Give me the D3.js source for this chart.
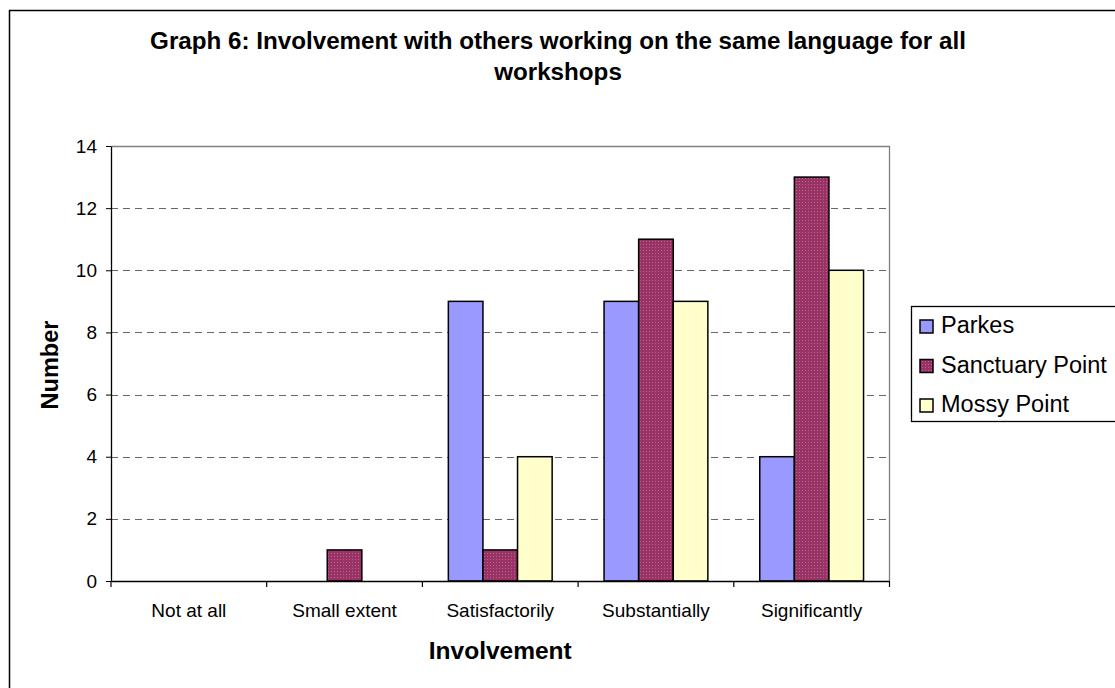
<!DOCTYPE html>
<html>
<head>
<meta charset="utf-8">
<script src="https://cdn.jsdelivr.net/npm/d3@7/dist/d3.min.js"></script>
<style>
  html, body { margin: 0; padding: 0; background: #fff; }
  svg { display: block; font-family: "Liberation Sans", Arial, sans-serif; }
</style>
</head>
<body>
<svg id="chart" width="1115" height="688"></svg>
<script>
const categories = ["Not at all", "Small extent", "Satisfactorily", "Substantially", "Significantly"];
const seriesNames = ["Parkes", "Sanctuary Point", "Mossy Point"];
const parkes = [0, 0, 9, 9, 4];
const sanctuaryPoint = [0, 1, 1, 11, 13];
const mossyPoint = [0, 0, 4, 9, 10];
const yTicks = [0, 2, 4, 6, 8, 10, 12, 14];
const titleLines = ["Graph 6: Involvement with others working on the same language for all", "workshops"];
const xTitle = "Involvement";
const yTitle = "Number";

const seriesValues = [parkes, sanctuaryPoint, mossyPoint];
const fills = ["#9999FF", "url(#dots)", "#FFFFCC"];

const svg = d3.select("#chart");
const defs = svg.append("defs");
const pat = defs.append("pattern").attr("id", "dots").attr("patternUnits", "userSpaceOnUse")
  .attr("width", 3).attr("height", 3);
pat.append("rect").attr("width", 3).attr("height", 3).attr("fill", "#993366");
pat.append("rect").attr("x", 1).attr("y", 1).attr("width", 1).attr("height", 1).attr("fill", "#b8628d");

// outer frame
svg.append("rect").attr("x", 9.5).attr("y", 10.5).attr("width", 1120).attr("height", 700)
  .attr("fill", "#fff").attr("stroke", "#000").attr("stroke-width", 1.5);

const pLeft = 111, pRight = 889.5, pTop = 146, pBottom = 581;
const x = d3.scaleBand().domain(categories).range([pLeft, pRight]).paddingInner(0).paddingOuter(0);
const y = d3.scaleLinear().domain([0, 14]).range([pBottom, pTop]);
const bw = x.bandwidth();
const barW = bw / 4.5;
const x1 = d3.scaleBand().domain(seriesNames).range([barW * 0.75, barW * 3.75]).padding(0);

// gridlines
svg.append("g").selectAll("line").data(yTicks.filter(d => d > 0 && d < 14)).join("line")
  .attr("x1", pLeft).attr("x2", pRight).attr("y1", d => Math.round(y(d)) + 0.5).attr("y2", d => Math.round(y(d)) + 0.5)
  .attr("stroke", "#666").attr("stroke-width", 1.2).attr("stroke-dasharray", "7,5");

// plot area border (top, right)
svg.append("path").attr("d", `M${pLeft},${pTop + 0.5}H${pRight}V${pBottom}`)
  .attr("fill", "none").attr("stroke", "#808080").attr("stroke-width", 1.3);

// bars
seriesNames.forEach((s, si) => {
  svg.append("g").selectAll("rect").data(categories.map((c, i) => ({c, v: seriesValues[si][i]})).filter(d => d.v > 0))
    .join("rect")
    .attr("x", d => x(d.c) + x1(s))
    .attr("y", d => y(d.v))
    .attr("width", x1.bandwidth())
    .attr("height", d => y(0) - y(d.v))
    .attr("fill", fills[si])
    .attr("stroke", "#000").attr("stroke-width", 1.5);
});

// y axis
const yAxis = d3.axisLeft(y).tickValues(yTicks).tickSize(5).tickPadding(9).tickSizeOuter(0);
const gy = svg.append("g").attr("transform", `translate(${pLeft},0)`).call(yAxis);
gy.select(".domain").attr("stroke", "#000").attr("stroke-width", 1.3);
gy.selectAll(".tick line").attr("stroke", "#000");
gy.selectAll("text").attr("font-size", 19).attr("fill", "#000").attr("font-family", "Liberation Sans, Arial, sans-serif");

// x axis
const xAxis = d3.axisBottom(x).tickSize(0).tickPadding(0);
const gx = svg.append("g").attr("transform", `translate(0,${pBottom})`).call(xAxis);
gx.select(".domain").attr("stroke", "#000").attr("stroke-width", 1.3);
gx.selectAll("text").attr("font-size", 19).attr("fill", "#000").attr("dy", null).attr("y", 36)
  .attr("font-family", "Liberation Sans, Arial, sans-serif");
// category separator ticks
const sepTicks = categories.map(c => x(c)).concat([pRight]);
svg.append("g").selectAll("line").data(sepTicks).join("line")
  .attr("x1", d => d).attr("x2", d => d).attr("y1", pBottom).attr("y2", pBottom + 6)
  .attr("stroke", "#000").attr("stroke-width", 1.2);

// titles
svg.append("g").selectAll("text").data(titleLines).join("text")
  .attr("x", 558).attr("y", (d, i) => 49 + i * 31)
  .attr("text-anchor", "middle").attr("font-weight", "bold").attr("font-size", 24.2)
  .text(d => d);

svg.append("text").attr("x", (pLeft + pRight) / 2).attr("y", 659).attr("text-anchor", "middle")
  .attr("font-weight", "bold").attr("font-size", 24.5).text(xTitle);

svg.append("text").attr("transform", `translate(58,365) rotate(-90)`).attr("text-anchor", "middle")
  .attr("font-weight", "bold").attr("font-size", 23.5).text(yTitle);

// legend
const lg = svg.append("g");
lg.append("rect").attr("x", 911.5).attr("y", 306.5).attr("width", 230).attr("height", 115)
  .attr("fill", "#fff").attr("stroke", "#000").attr("stroke-width", 1.3);
seriesNames.forEach((s, i) => {
  const yy = 320 + i * 39.5;
  lg.append("rect").attr("x", 920).attr("y", yy).attr("width", 13).attr("height", 13)
    .attr("fill", fills[i]).attr("stroke", "#000").attr("stroke-width", 1.5);
  lg.append("text").attr("x", 941).attr("y", yy + 13).attr("font-size", 23.5).text(s);
});
</script>
</body>
</html>
